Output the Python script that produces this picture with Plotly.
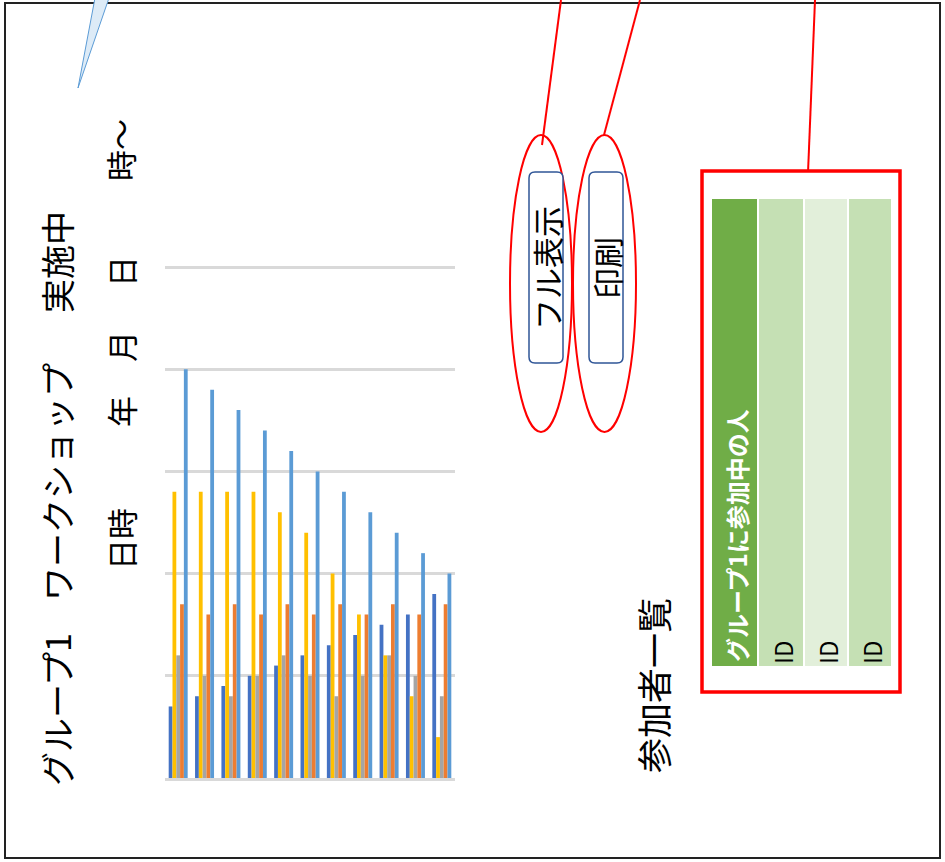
import plotly.graph_objects as go

W, H = 945, 862

# ---- data ----
categories = [str(i) for i in range(1, 12)]
series_names = ["系列1", "系列2", "系列3", "系列4", "系列5"]
s_darkblue = [0.7, 0.8, 0.9, 1.0, 1.1, 1.2, 1.3, 1.4, 1.5, 1.6, 1.8]
s_gold = [2.8, 2.8, 2.8, 2.8, 2.6, 2.4, 2.0, 1.6, 1.2, 0.8, 0.4]
s_gray = [1.2, 1.0, 0.8, 1.0, 1.2, 1.0, 0.8, 1.0, 1.2, 1.0, 0.8]
s_orange = [1.7, 1.6, 1.7, 1.6, 1.7, 1.6, 1.7, 1.6, 1.7, 1.6, 1.7]
s_lightblue = [4.0, 3.8, 3.6, 3.4, 3.2, 3.0, 2.8, 2.6, 2.4, 2.2, 2.0]
series_values = [s_darkblue, s_gold, s_gray, s_orange, s_lightblue]
series_colors = ["#4472C4", "#FFC000", "#A5A5A5", "#ED7D31", "#5B9BD5"]

title_parts = ["グループ1", "ワークショップ", "実施中"]
date_parts = ["日時", "年", "月", "日", "時～"]
button_labels = ["フル表示", "印刷"]
list_label = "参加者一覧"
table_header = "グループ1に参加中の人"
table_ids = ["ID", "ID", "ID"]

FONT = "Noto Sans CJK JP"


def px(x):
    return x / W


def py(y):
    return 1 - y / H


fig = go.Figure()
for name, vals, col in zip(series_names, series_values, series_colors):
    fig.add_trace(go.Bar(x=categories, y=vals, name=name, marker_color=col,
                         marker_line_width=0))

shapes = []
annotations = []

# outer border
shapes.append(dict(type="rect", xref="paper", yref="paper",
                   x0=px(5), x1=px(940), y0=py(858), y1=py(3),
                   line=dict(color="#222222", width=2), fillcolor="rgba(0,0,0,0)"))

# light blue callout tail
shapes.append(dict(type="path", xref="paper", yref="paper",
                   path=f"M {px(95)},{py(-2)} L {px(78)},{py(88)} L {px(109)},{py(-2)} Z",
                   line=dict(color="#5B9BD5", width=1), fillcolor="#DDEBF7"))

# red connector lines
for (x0, y0, x1, y1) in [(561, 0, 542, 145), (640, 0, 604, 135), (815, 0, 808, 173)]:
    shapes.append(dict(type="line", xref="paper", yref="paper",
                       x0=px(x0), y0=py(y0), x1=px(x1), y1=py(y1),
                       line=dict(color="#FF0000", width=2)))

# red ellipses
for (x0, x1) in [(510, 572), (573, 636)]:
    shapes.append(dict(type="circle", xref="paper", yref="paper",
                       x0=px(x0), x1=px(x1), y0=py(432), y1=py(135),
                       line=dict(color="#FF0000", width=2)))


def rounded(x0, y0, x1, y1, r):
    pts = [
        f"M {px(x0 + r)},{py(y0)}",
        f"L {px(x1 - r)},{py(y0)}",
        f"Q {px(x1)},{py(y0)} {px(x1)},{py(y0 + r)}",
        f"L {px(x1)},{py(y1 - r)}",
        f"Q {px(x1)},{py(y1)} {px(x1 - r)},{py(y1)}",
        f"L {px(x0 + r)},{py(y1)}",
        f"Q {px(x0)},{py(y1)} {px(x0)},{py(y1 - r)}",
        f"L {px(x0)},{py(y0 + r)}",
        f"Q {px(x0)},{py(y0)} {px(x0 + r)},{py(y0)}",
        "Z",
    ]
    return " ".join(pts)


# buttons
for (x0, x1), label in zip([(529, 563), (589, 623)], button_labels):
    shapes.append(dict(type="path", xref="paper", yref="paper",
                       path=rounded(x0, 172, x1, 363, 6),
                       line=dict(color="#2F5597", width=1.5), fillcolor="white"))
    annotations.append(dict(text=label, x=px((x0 + x1) / 2 + 1), y=py(268),
                            xref="paper", yref="paper", showarrow=False,
                            textangle=-90, xanchor="center", yanchor="middle",
                            font=dict(family=FONT, size=31, color="black")))

# red table frame
shapes.append(dict(type="rect", xref="paper", yref="paper",
                   x0=px(702), x1=px(900), y0=py(692), y1=py(171),
                   line=dict(color="#FF0000", width=3.5), fillcolor="white"))

# table columns
cols = [(712, 757, "#70AD47"), (759, 803, "#C5E0B4"), (805, 847, "#E2EFDA"), (849, 891, "#C5E0B4")]
for x0, x1, c in cols:
    shapes.append(dict(type="rect", xref="paper", yref="paper",
                       x0=px(x0), x1=px(x1), y0=py(666), y1=py(199),
                       line=dict(width=0), fillcolor=c, layer="above"))

annotations.append(dict(text=table_header, x=px(736), y=py(536), xref="paper", yref="paper",
                        showarrow=False, textangle=-90, xanchor="center", yanchor="middle",
                        font=dict(family=FONT, size=24, color="white", weight="bold")))
for (x0, x1, c), t in zip(cols[1:], table_ids):
    annotations.append(dict(text=t, x=px((x0 + x1) / 2 + 1), y=py(652), xref="paper", yref="paper",
                            showarrow=False, textangle=-90, xanchor="center", yanchor="middle",
                            font=dict(family=FONT, size=24, color="black")))

# title text
for t, yc in zip(title_parts, [710, 482, 262]):
    annotations.append(dict(text=t, x=px(56), y=py(yc), xref="paper", yref="paper",
                            showarrow=False, textangle=-90, xanchor="center", yanchor="middle",
                            font=dict(family=FONT, size=34, color="black")))
for t, yc in zip(date_parts, [539, 412, 347, 272, 150]):
    annotations.append(dict(text=t, x=px(120), y=py(yc), xref="paper", yref="paper",
                            showarrow=False, textangle=-90, xanchor="center", yanchor="middle",
                            font=dict(family=FONT, size=31, color="black")))

annotations.append(dict(text=list_label, x=px(652), y=py(686), xref="paper", yref="paper",
                        showarrow=False, textangle=-90, xanchor="center", yanchor="middle",
                        font=dict(family=FONT, size=35, color="black")))

YMAX = 5.05
unit = (778 - 267) / 5.0
fig.update_layout(
    width=W, height=H,
    margin=dict(l=0, r=0, t=0, b=0),
    paper_bgcolor="white", plot_bgcolor="white",
    showlegend=False,
    barmode="group", bargap=0.28, bargroupgap=0,
    shapes=shapes, annotations=annotations,
    xaxis=dict(domain=[px(165), px(455)], showticklabels=False, ticks="",
               showgrid=False, showline=True, linecolor="#D9D9D9", linewidth=2.5,
               zeroline=False),
    yaxis=dict(domain=[py(778), py(778 - YMAX * unit)], range=[0, YMAX],
               tickvals=[1, 2, 3, 4, 5],
               showticklabels=False, ticks="", showgrid=True,
               gridcolor="#D9D9D9", gridwidth=2.5, zeroline=False, showline=False),
)

fig.write_html("out.html")
